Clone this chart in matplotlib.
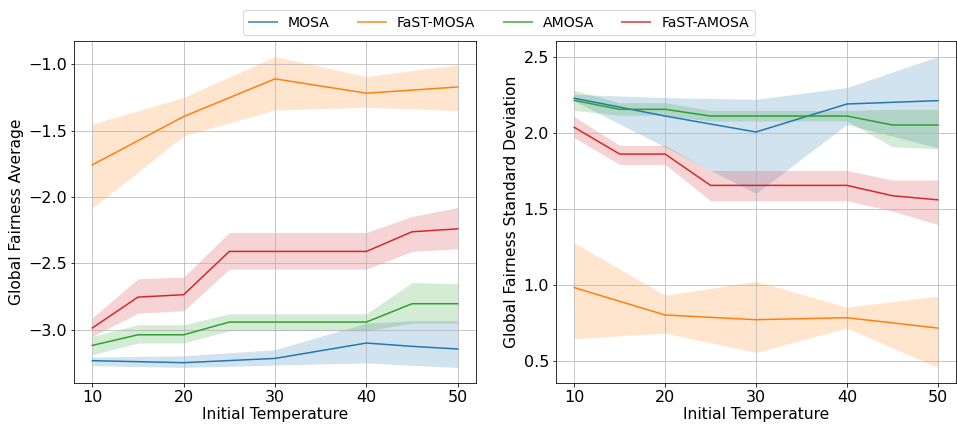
import matplotlib
matplotlib.use("Agg")
import matplotlib.pyplot as plt

names = ["MOSA", "FaST-MOSA", "AMOSA", "FaST-AMOSA"]
colors = ["#1f77b4", "#ff7f0e", "#2ca02c", "#d62728"]

# x positions per series
x_mosa = [10, 20, 30, 40, 45, 50]
x_amosa = [10, 15, 20, 25, 30, 40, 45, 50]

# Left panel: Global Fairness Average
avg_mosa = [-3.233, -3.248, -3.216, -3.100, -3.125, -3.145]
avg_mosa_lo = [-3.271, -3.284, -3.266, -3.250, -3.268, -3.284]
avg_mosa_hi = [-3.206, -3.196, -3.150, -2.950, -2.932, -2.932]

avg_fmosa = [-1.758, -1.394, -1.110, -1.218, -1.195, -1.171]
avg_fmosa_lo = [-2.084, -1.540, -1.344, -1.324, -1.336, -1.349]
avg_fmosa_hi = [-1.450, -1.250, -0.942, -1.093, -1.048, -1.005]

avg_amosa = [-3.118, -3.038, -3.038, -2.942, -2.942, -2.942, -2.804, -2.804]
avg_amosa_lo = [-3.188, -3.100, -3.100, -3.008, -3.008, -3.008, -2.950, -2.950]
avg_amosa_hi = [-3.050, -2.962, -2.962, -2.880, -2.880, -2.880, -2.644, -2.654]

avg_famosa = [-2.987, -2.754, -2.736, -2.410, -2.410, -2.410, -2.262, -2.240]
avg_famosa_lo = [-3.050, -2.875, -2.857, -2.543, -2.543, -2.543, -2.410, -2.390]
avg_famosa_hi = [-2.910, -2.616, -2.603, -2.267, -2.267, -2.267, -2.147, -2.079]

# Right panel: Global Fairness Standard Deviation
x_mosa_r = [10, 20, 30, 40, 50]
std_mosa = [2.226, 2.109, 2.004, 2.188, 2.210]
std_mosa_lo = [2.208, 1.905, 1.600, 2.054, 1.900]
std_mosa_hi = [2.252, 2.230, 2.219, 2.296, 2.500]

std_fmosa = [0.981, 0.801, 0.770, 0.783, 0.715]
std_fmosa_lo = [0.645, 0.682, 0.555, 0.715, 0.456]
std_fmosa_hi = [1.275, 0.930, 1.022, 0.853, 0.924]

std_amosa = [2.212, 2.153, 2.153, 2.109, 2.109, 2.109, 2.050, 2.050]
std_amosa_lo = [2.146, 2.114, 2.114, 2.076, 2.076, 2.076, 1.907, 1.894]
std_amosa_hi = [2.278, 2.197, 2.197, 2.146, 2.146, 2.146, 2.153, 2.153]

std_famosa = [2.035, 1.859, 1.859, 1.653, 1.653, 1.653, 1.585, 1.558]
std_famosa_lo = [1.967, 1.791, 1.791, 1.552, 1.552, 1.552, 1.484, 1.396]
std_famosa_hi = [2.105, 1.916, 1.916, 1.751, 1.751, 1.751, 1.688, 1.688]

xticks = [10, 20, 30, 40, 50]
yticks_left = [-3.0, -2.5, -2.0, -1.5, -1.0]
yticks_right = [0.5, 1.0, 1.5, 2.0, 2.5]

DPI = 72
W, H = 957, 427
fig = plt.figure(figsize=(W / DPI, H / DPI), dpi=DPI)
ax1 = fig.add_axes([74 / W, 1 - 383 / H, (476 - 74) / W, (383 - 41) / H])
ax2 = fig.add_axes([556 / W, 1 - 383 / H, (956 - 556) / W, (383 - 41) / H])

left = [
    (x_mosa, avg_mosa, avg_mosa_lo, avg_mosa_hi),
    (x_mosa, avg_fmosa, avg_fmosa_lo, avg_fmosa_hi),
    (x_amosa, avg_amosa, avg_amosa_lo, avg_amosa_hi),
    (x_amosa, avg_famosa, avg_famosa_lo, avg_famosa_hi),
]
right = [
    (x_mosa_r, std_mosa, std_mosa_lo, std_mosa_hi),
    (x_mosa_r, std_fmosa, std_fmosa_lo, std_fmosa_hi),
    (x_amosa, std_amosa, std_amosa_lo, std_amosa_hi),
    (x_amosa, std_famosa, std_famosa_lo, std_famosa_hi),
]

handles = []
for ax, data in ((ax1, left), (ax2, right)):
    for (x, y, lo, hi), c, n in zip(data, colors, names):
        h, = ax.plot(x, y, color=c, lw=1.5, label=n)
        ax.fill_between(x, lo, hi, color=c, alpha=0.2, lw=0)
        if ax is ax1:
            handles.append(h)
    ax.grid(True, color="#b0b0b0", lw=1.0, alpha=0.7)
    ax.set_xticks(xticks)
    ax.tick_params(labelsize=16)
    ax.set_xlabel("Initial Temperature", fontsize=15.5, labelpad=2)

ax1.set_yticks(yticks_left)
ax2.set_yticks(yticks_right)
ax1.set_ylabel("Global Fairness Average", fontsize=15.5)
ax2.set_ylabel("Global Fairness Standard Deviation", fontsize=15.5)

leg = fig.legend(handles=handles, labels=names, loc="upper center", ncol=4,
                 bbox_to_anchor=(499 / W, 1 - 3 / H), fontsize=14,
                 frameon=True)
for lh in leg.get_lines():
    lh.set_alpha(0.7)
    lh.set_linewidth(2.0)

fig.savefig("out.png", dpi=DPI)
